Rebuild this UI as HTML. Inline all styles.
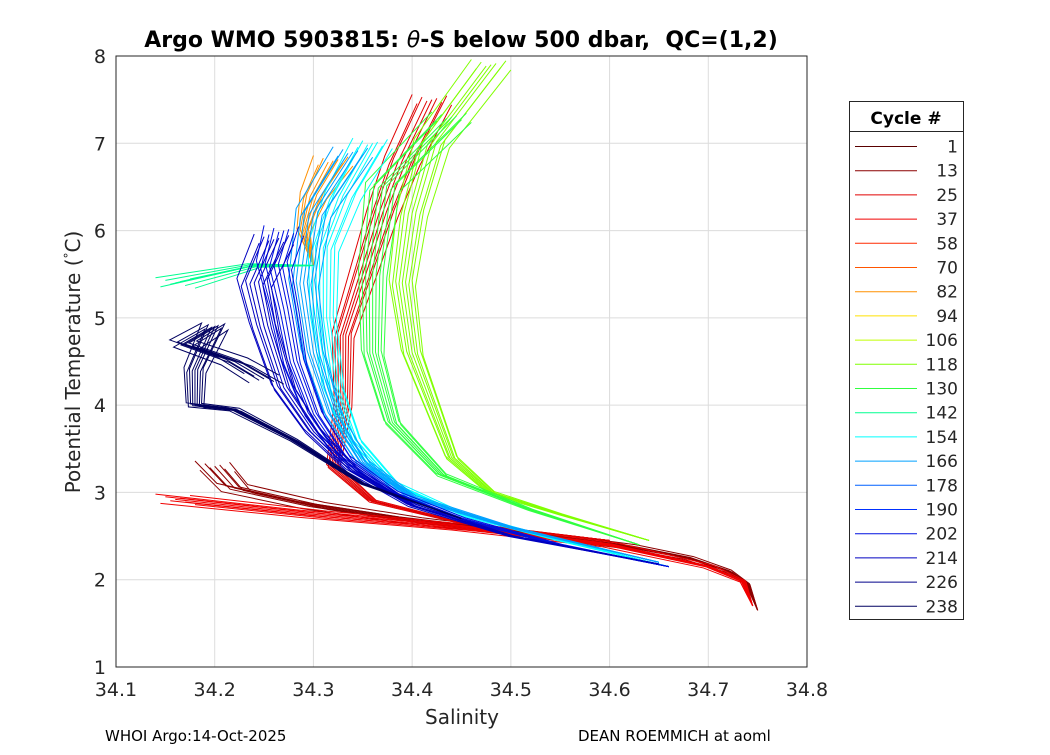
<!DOCTYPE html>
<html><head><meta charset="utf-8"><style>
body{margin:0;background:#fff;font-family:"Liberation Sans","DejaVu Sans",sans-serif;}
</style></head><body>
<svg id="chart" width="1050" height="750" xmlns="http://www.w3.org/2000/svg" font-family="DejaVu Sans, Liberation Sans, sans-serif">
<rect width="1050" height="750" fill="#fff"/>
<text x="461" y="47" text-anchor="middle" font-size="22" font-weight="bold">Argo WMO 5903815: <tspan font-style="italic" font-weight="normal">θ</tspan>-S below 500 dbar,&#160;&#160;QC=(1,2)</text>
<g id="grid"></g>
<g id="marks"></g>
<rect x="116" y="56" width="691" height="611" fill="none" stroke="#262626" stroke-width="1"/>
<g id="axes" font-size="19" fill="#262626"></g>
<text x="462" y="724" text-anchor="middle" font-size="20" fill="#262626">Salinity</text>
<text transform="translate(80,362) rotate(-90)" text-anchor="middle" font-size="20" fill="#262626">Potential Temperature (<tspan baseline-shift="super" font-size="12">°</tspan>C)</text>
<text x="105" y="741" font-size="15">WHOI Argo:14-Oct-2025</text>
<text x="578" y="741" font-size="15">DEAN ROEMMICH at aoml</text>
<g id="legend"></g>
</svg>
<script>
const xTicks=[34.1,34.2,34.3,34.4,34.5,34.6,34.7,34.8];
const yTicks=[1,2,3,4,5,6,7,8];
const legendCycles=[1,13,25,37,58,70,82,94,106,118,130,142,154,166,178,190,202,214,226,238];
const legendColors=["#5a0000","#8c0000","#e00000","#f00000","#ff2a00","#ff5500","#ff9000","#ffe000","#c0ff00","#80ff00","#30ff40","#00ff90","#00ffff","#00a0ff","#0060ff","#0030ff","#0010e0","#0000c0","#00008a","#000060"];
const profDeepRed=[[34.75,1.65],[34.74,1.95],[34.72,2.1],[34.68,2.25],[34.62,2.38],[34.5,2.55],[34.4,2.68],[34.3,2.85],[34.22,3.05],[34.2,3.3]];
const profDeepRed2=[[34.745,1.7],[34.735,1.98],[34.7,2.15],[34.6,2.4],[34.45,2.6],[34.3,2.75],[34.16,2.92]];
const profRedUpper=[[34.6,2.45],[34.45,2.65],[34.36,2.9],[34.32,3.3],[34.33,4.0],[34.33,4.8],[34.35,5.5],[34.37,6.2],[34.39,6.8],[34.42,7.5]];
const profOrange=[[34.3,5.6],[34.29,6.0],[34.3,6.4],[34.32,6.8]];
const profGreen=[[34.64,2.45],[34.55,2.75],[34.48,3.0],[34.44,3.4],[34.42,4.0],[34.4,4.6],[34.39,5.4],[34.4,6.2],[34.42,7.0],[34.48,7.9]];
const profGreen2=[[34.63,2.4],[34.52,2.8],[34.43,3.2],[34.38,3.8],[34.36,4.6],[34.36,5.5],[34.37,6.5],[34.44,7.3]];
const profCyan=[[34.66,2.15],[34.55,2.45],[34.45,2.75],[34.38,3.1],[34.34,3.6],[34.32,4.2],[34.31,5.0],[34.31,5.8],[34.33,6.4],[34.36,7.0]];
const profCyan2=[[34.65,2.2],[34.5,2.6],[34.4,2.95],[34.35,3.35],[34.32,3.9],[34.3,4.6],[34.29,5.4],[34.3,6.2],[34.34,6.9]];
const profTeal=[[34.3,5.6],[34.24,5.6],[34.2,5.5],[34.16,5.4]];
const profBlue=[[34.66,2.15],[34.55,2.4],[34.45,2.7],[34.38,3.0],[34.33,3.4],[34.3,3.9],[34.28,4.5],[34.27,5.1],[34.26,5.6],[34.27,6.0]];
const profBlue2=[[34.65,2.18],[34.5,2.5],[34.4,2.85],[34.34,3.25],[34.3,3.7],[34.27,4.2],[34.25,4.9],[34.24,5.4],[34.26,5.9]];
const profNavyLeft=[[34.45,2.7],[34.35,3.1],[34.28,3.6],[34.22,3.95],[34.18,4.0],[34.18,4.4],[34.2,4.9],[34.17,4.7],[34.22,4.5],[34.25,4.3]];
const profilesList=[profDeepRed,profDeepRed2,profRedUpper,profOrange,profGreen,profGreen2,profCyan,profCyan2,profTeal,profBlue,profBlue2,profNavyLeft];
const profileColorIdx=[1,3,2,6,9,10,12,13,11,16,17,19];
const bundleOffsets=[-0.02,-0.015,-0.01,-0.005,0,0.005,0.01,0.015,0.02];

const sx=s=>116+(s-34.1)/0.7*691;
const sy=t=>667-(t-1)/7*611;
const NS="http://www.w3.org/2000/svg";
function mk(tag,attrs,parent){const e=document.createElementNS(NS,tag);for(const k in attrs)e.setAttribute(k,attrs[k]);parent.appendChild(e);return e;}
const grid=document.getElementById('grid'),axes=document.getElementById('axes');
xTicks.forEach(v=>{
 const l=mk('line',{x1:sx(v),x2:sx(v),y1:56,y2:667,stroke:'#dcdcdc'},grid);
 
 
 const t=mk('text',{x:sx(v),y:696,'text-anchor':'middle'},axes);t.textContent=v.toFixed(1);
 
 
});
yTicks.forEach(v=>{
 const l=mk('line',{x1:116,x2:807,y1:sy(v),y2:sy(v),stroke:'#dcdcdc'},grid);
 
 
 const t=mk('text',{x:106,y:sy(v)+7,'text-anchor':'end'},axes);t.textContent=v;
 
 
});
const marks=document.getElementById('marks');
profilesList.forEach((p,i)=>{
 bundleOffsets.forEach((o,j)=>{
  const n=p.length-1;
  const pts=p.map(([s,t],m)=>sx(s+o*(m/n))+','+sy(t+o*3*(m/n)*(j%2?1:-1))).join(' ');
  const pl=mk('polyline',{points:pts,fill:'none',stroke:legendColors[profileColorIdx[i]],'stroke-width':1},marks);
  
  
 });
});
const lg=document.getElementById('legend');
const box=mk('rect',{x:849.5,y:101.5,width:114,height:518,fill:'#fff',stroke:'#262626'},lg);


mk('line',{x1:849.5,x2:963.5,y1:131.5,y2:131.5,stroke:'#262626'},lg);
const lt=mk('text',{x:906,y:124,'text-anchor':'middle','font-size':17,'font-weight':'bold'},lg);lt.textContent='Cycle #';


legendCycles.forEach((c,i)=>{
 const y=146.5+i*24.2;
 const g=mk('g',{},lg);
 
 
 mk('line',{x1:855,x2:917,y1:y,y2:y,stroke:legendColors[i]},g);
 const t=mk('text',{x:958,y:y+6,'text-anchor':'end','font-size':17,fill:'#262626'},g);t.textContent=c;
});
</script>
</body></html>
